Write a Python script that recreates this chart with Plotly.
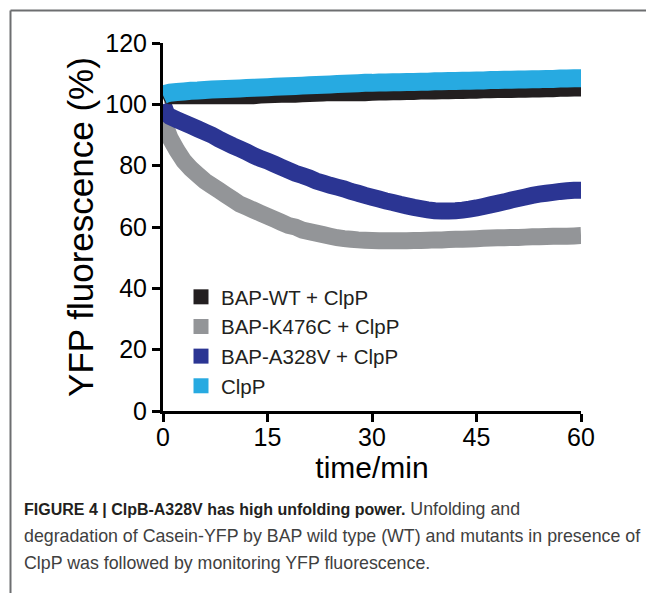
import plotly.graph_objects as go

# ---- data ----
time_min = [0, 0.5] + list(range(1, 61))

wt_clpp = [102, 102.5, 102, 102, 102, 102, 102, 102, 102, 102, 102, 102,
           102, 102, 102, 102.2, 102.3, 102.4, 102.5, 102.5, 102.5, 102.6,
           102.7, 102.8, 102.9, 103, 103, 103, 103, 103, 103, 103.1, 103.2,
           103.2, 103.3, 103.3, 103.4, 103.4, 103.5, 103.5, 103.5, 103.6,
           103.6, 103.7, 103.7, 103.8, 103.8, 103.9, 103.9, 104, 104, 104,
           104.1, 104.1, 104.2, 104.2, 104.3, 104.3, 104.4, 104.4, 104.5, 104.5]

k476c_clpp = [99, 92, 89, 85, 81.5, 79, 77, 75, 73.5, 72, 70.5, 69, 67.5,
              66.5, 65.5, 64.5, 63.5, 62.5, 61.5, 60.5, 60, 59, 58.5, 58,
              57.5, 57, 56.5, 56.2, 56, 55.8, 55.7, 55.6, 55.5, 55.5, 55.5,
              55.5, 55.5, 55.6, 55.6, 55.7, 55.8, 55.8, 55.9, 56, 56, 56.1,
              56.2, 56.3, 56.4, 56.5, 56.5, 56.6, 56.6, 56.7, 56.8, 56.8,
              56.9, 57, 57, 57, 57.1, 57.2]

a328v_clpp = [100, 97, 96, 95, 94, 93, 92, 91, 90, 88.7, 87.6, 86.5, 85.5,
              84.5, 83.3, 82.3, 81.5, 80.5, 79.5, 78.5, 77.5, 76.8, 76, 75,
              74.3, 73.6, 73, 72.4, 71.6, 71, 70.3, 69.7, 69.1, 68.5, 68,
              67.4, 66.9, 66.4, 66, 65.6, 65.3, 65.2, 65.2, 65.3, 65.5, 65.8,
              66.2, 66.7, 67.2, 67.7, 68.2, 68.8, 69.3, 69.8, 70.3, 70.7,
              71, 71.3, 71.6, 71.8, 72, 72]

clpp_only = [103, 103.5, 103.8, 104, 104.2, 104.4, 104.5, 104.7, 104.8, 104.9,
             105, 105.1, 105.2, 105.3, 105.4, 105.5, 105.6, 105.7, 105.8,
             105.9, 106, 106.1, 106.2, 106.3, 106.4, 106.5, 106.6, 106.7,
             106.8, 106.9, 107, 107, 107.1, 107.1, 107.2, 107.2, 107.3, 107.3,
             107.4, 107.4, 107.5, 107.5, 107.6, 107.6, 107.7, 107.7, 107.8,
             107.8, 107.9, 107.9, 108, 108, 108.1, 108.1, 108.2, 108.2, 108.3,
             108.3, 108.4, 108.4, 108.5, 108.5]

series_names = ["BAP-WT + ClpP", "BAP-K476C + ClpP", "BAP-A328V + ClpP", "ClpP"]
series_values = [wt_clpp, k476c_clpp, a328v_clpp, clpp_only]
series_colors = ["#231f20", "#939598", "#2b3593", "#27aae1"]
series_widths = [12, 17, 17, 18]

x_ticks = [0, 15, 30, 45, 60]
y_ticks = [0, 20, 40, 60, 80, 100, 120]

FONT = "Liberation Sans, Arial, Helvetica, sans-serif"

# the page places the figure 8px in from the window corner; work in window px
OFF = 8
W, H = 654 - OFF, 594 - OFF
L = 163 - OFF
T = 43 - OFF
R = W - (581 - OFF)
B = H - (411 - OFF)
pw, ph = W - L - R, H - T - B


def px_x(px):
    """window pixel x -> paper x"""
    return (px - OFF - L) / pw


def px_y(py):
    """window pixel y -> paper y"""
    return (H - B - (py - OFF)) / ph


fig = go.Figure()

# data bands (draw order: gray, dark blue, black, light blue)
for i in [1, 2, 0, 3]:
    fig.add_trace(go.Scatter(
        x=time_min, y=series_values[i], mode="lines",
        line=dict(color=series_colors[i], width=series_widths[i], simplify=False),
        showlegend=False, hoverinfo="skip"))

# legend entries with square swatches
for name, color in zip(series_names, series_colors):
    fig.add_trace(go.Scatter(
        x=[None], y=[None], mode="markers", name=name,
        marker=dict(symbol="square", size=15, color=color)))

axis_common = dict(
    showline=True, linecolor="black", linewidth=3,
    ticks="outside", ticklen=8, tickwidth=3, tickcolor="black",
    showgrid=False, zeroline=False,
    tickfont=dict(family=FONT, size=25, color="black"),
)

fig.update_xaxes(range=[0, 60], tickvals=x_ticks, ticklabelstandoff=-6,
                 title=dict(text="time/min", font=dict(family=FONT, size=30, color="black"),
                            standoff=4),
                 **axis_common)
fig.update_yaxes(range=[0, 120], tickvals=y_ticks,
                 title=dict(text="YFP fluorescence (%)",
                            font=dict(family=FONT, size=35, color="black"),
                            standoff=2),
                 **axis_common)

fig.update_layout(
    width=W, height=H,
    margin=dict(l=L, r=R, t=T, b=B, autoexpand=False),
    paper_bgcolor="white", plot_bgcolor="white",
    font=dict(family=FONT, color="black"),
    legend=dict(x=px_x(181), y=px_y(277), xanchor="left", yanchor="top",
                font=dict(family=FONT, size=20.5, color="#231f20"),
                bgcolor="rgba(0,0,0,0)", tracegroupgap=0, itemsizing="trace"),
)

# frame lines of the figure panel (top and left edges)
frame_x = px_x(OFF + 2.5)
frame_y = px_y(OFF + 2.5)
fig.add_shape(type="line", xref="paper", yref="paper",
              x0=frame_x, x1=px_x(653), y0=frame_y, y1=frame_y,
              line=dict(color="#6d6e70", width=2))
fig.add_shape(type="line", xref="paper", yref="paper",
              x0=frame_x, x1=frame_x, y0=frame_y, y1=px_y(593),
              line=dict(color="#6d6e70", width=2))

# caption
caption_lines = [
    "<span style='font-size:16px;color:#231f20'><b>FIGURE 4 | ClpB-A328V has high unfolding power.</b></span>"
    " Unfolding and",
    "degradation of Casein-YFP by BAP wild type (WT) and mutants in presence of",
    "ClpP was followed by monitoring YFP fluorescence.",
]
caption_y = [509, 536, 563]
for txt, yy in zip(caption_lines, caption_y):
    fig.add_annotation(text=txt, xref="paper", yref="paper",
                       x=px_x(22), y=px_y(yy), xanchor="left", yanchor="middle",
                       showarrow=False, align="left",
                       font=dict(family=FONT, size=17.8, color="#404040"))

fig.write_html("out.html")
